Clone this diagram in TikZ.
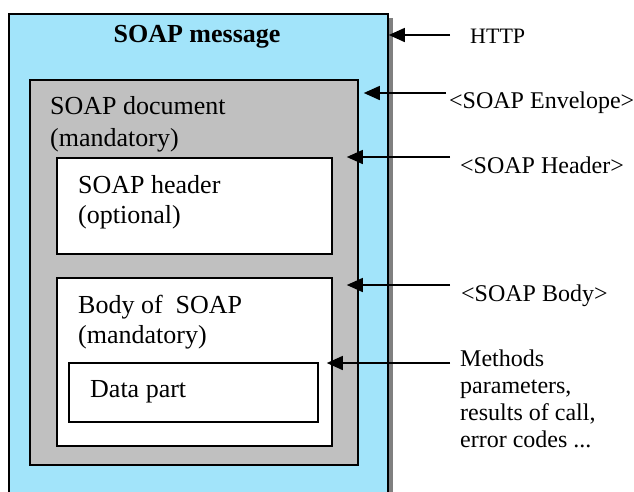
\documentclass[tikz,border=0pt]{standalone}
\usepackage{fontspec}
\setmainfont{Liberation Serif}
\usetikzlibrary{arrows.meta}
\definecolor{msgblue}{RGB}{162,228,250}
\definecolor{docgray}{RGB}{192,192,192}
\definecolor{shadowgray}{RGB}{128,128,128}
\begin{document}
\begin{tikzpicture}[x=1pt,y=-1pt,
  frame/.style={draw=black, line width=1.8pt, inner sep=0pt, anchor=north west},
  boxtext/.style={font=\fontsize{26}{30}\selectfont, anchor=base west, inner sep=0pt},
  lbl/.style={font=\fontsize{24}{27}\selectfont, anchor=base west, inner sep=0pt},
  pointer/.style={line width=1.5pt, -{Triangle[length=16pt,width=14pt]}}]
\useasboundingbox (0,0) rectangle (634,491);

% outer message box runs past the lower edge of the page
\begin{scope}
  \clip (0,0) rectangle (634,491);
  \fill[shadowgray] (387,18) rectangle (393,500);
  \node[frame, fill=msgblue, minimum width=379pt, minimum height=490pt] (msg) at (8,13) {};
\end{scope}

% nested parts of the message
\node[frame, fill=docgray, minimum width=328pt, minimum height=385pt] (doc)  at (29,79) {};
\node[frame, fill=white,   minimum width=275pt, minimum height=96pt]  (hdr)  at (56,157) {};
\node[frame, fill=white,   minimum width=275pt, minimum height=168pt] (body) at (56,277) {};
\node[frame, fill=white,   minimum width=249pt, minimum height=59pt]  (data) at (68,362) {};

% box captions
\node[font=\bfseries\fontsize{26}{30}\selectfont, anchor=base, inner sep=0pt] (title) at (197,42) {SOAP message};
\node[boxtext] (doc1)  at (50,114) {SOAP document};
\node[boxtext] (doc2)  at (50,146) {(mandatory)};
\node[boxtext] (hdr1)  at (78,193) {SOAP header};
\node[boxtext] (hdr2)  at (78,223) {(optional)};
\node[boxtext] (body1) at (78,313) {Body of\ \ SOAP};
\node[boxtext] (body2) at (78,343) {(mandatory)};
\node[boxtext] (data1) at (90,397) {Data part};

% labels on the right
\node[lbl, font=\fontsize{22}{26}\selectfont] (lhttp) at (470,43) {HTTP};
\node[lbl] (lenv)  at (449,108) {<SOAP Envelope>};
\node[lbl] (lhdr)  at (460,173) {<SOAP Header>};
\node[lbl] (lbody) at (461,301) {<SOAP Body>};
\node[lbl] (lm1)   at (460,366) {Methods};
\node[lbl] (lm2)   at (460,393) {parameters,};
\node[lbl] (lm3)   at (460,420) {results of call,};
\node[lbl] (lm4)   at (460,447) {error codes ...};

% arrow tails
\coordinate (shttp) at (450,35);
\coordinate (senv)  at (446,93);
\coordinate (shdr)  at (450,157);
\coordinate (sbody) at (450,285);
\coordinate (sdata) at (450,363);

% pointers
\draw[pointer] (shttp) -- (shttp -| msg.east);
\draw[pointer] (senv)  -- ([xshift=5pt]senv -| doc.east);
\draw[pointer] (shdr)  -- ([xshift=14pt]shdr -| hdr.east);
\draw[pointer] (sbody) -- ([xshift=14pt]sbody -| body.east);
\draw[pointer] (sdata) -- ([xshift=8pt]sdata -| data.east);
\end{tikzpicture}
\end{document}
